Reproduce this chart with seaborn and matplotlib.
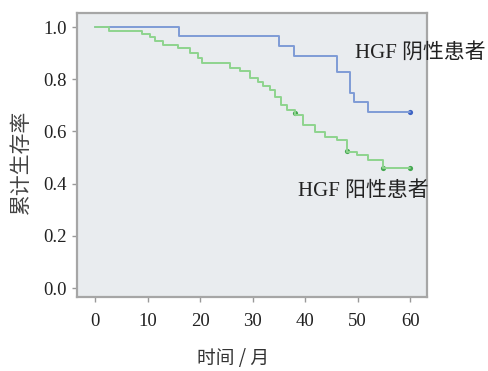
import numpy as np
import pandas as pd
import matplotlib
matplotlib.use("Agg")
import matplotlib.pyplot as plt
import seaborn as sns

# ── Data ─────────────────────────────────────────────────────────────────────
neg_time = [0, 16, 35, 37.8, 46, 48.6, 49.4, 52, 60]
neg_surv = [1.0, 0.964, 0.928, 0.891, 0.826, 0.747, 0.713, 0.676, 0.676]
neg_cens_t = [60]
neg_cens_s = [0.676]

pos_time = [0, 2.7, 8.9, 10.5, 11.5, 13, 15.8, 18, 19.6, 20.4, 25.7, 27.6,
            29.5, 31, 32, 33.3, 34.3, 35.4, 36.5, 38, 39.6, 41.9, 43.8, 46,
            48, 49.9, 52, 54.9, 60]
pos_surv = [1.0, 0.985, 0.973, 0.962, 0.946, 0.931, 0.920, 0.900, 0.881, 0.862,
            0.843, 0.831, 0.805, 0.789, 0.774, 0.759, 0.732, 0.701, 0.682, 0.663,
            0.625, 0.598, 0.579, 0.567, 0.521, 0.510, 0.490, 0.460, 0.460]
pos_cens_t = [38, 48, 54.9, 60]
pos_cens_s = [0.672, 0.527, 0.460, 0.460]

xticks = [0, 10, 20, 30, 40, 50, 60]
yticks = [0.0, 0.2, 0.4, 0.6, 0.8, 1.0]

neg_df = pd.DataFrame({"t": neg_time, "s": neg_surv})
pos_df = pd.DataFrame({"t": pos_time, "s": pos_surv})

BLUE, BLUE_D = "#7f9bd6", "#3d63c4"
GREEN, GREEN_D = "#8ed48e", "#45a852"
SERIF = ["Liberation Serif", "Noto Sans CJK SC"]
CJK = ["Noto Sans CJK SC", "DejaVu Sans"]

sns.set_style("white")
fig = plt.figure(figsize=(4.88, 3.71), dpi=100)
ax = fig.add_axes([0.158, 0.1995, 0.717, 0.7655])
ax.set_facecolor("#e9ecef")

sns.lineplot(data=neg_df, x="t", y="s", drawstyle="steps-post", estimator=None,
             color=BLUE, linewidth=1.4, ax=ax)
sns.lineplot(data=pos_df, x="t", y="s", drawstyle="steps-post", estimator=None,
             color=GREEN, linewidth=1.4, ax=ax)
sns.scatterplot(x=neg_cens_t, y=neg_cens_s, color=BLUE_D, s=14, linewidth=0, ax=ax)
sns.scatterplot(x=pos_cens_t, y=pos_cens_s, color=GREEN_D, s=14, linewidth=0, ax=ax)

ax.set_xlim(-3.4, 63.2)
ax.set_ylim(-0.034, 1.054)
ax.set_xticks(xticks)
ax.set_yticks(yticks)
ax.set_xticklabels([str(v) for v in xticks], family=SERIF, fontsize=13.5)
ax.set_yticklabels([f"{v:.1f}" for v in yticks], family=SERIF, fontsize=13.5)
ax.tick_params(axis="both", direction="out", length=3.5, width=1, color="#999999",
               pad=4, labelcolor="#222222", bottom=True, left=True)
ax.tick_params(axis="x", pad=8)

for sp in ax.spines.values():
    sp.set_color("#a6a6a6")
    sp.set_linewidth(1.6)

ax.set_xlabel("时间 / 月", family=CJK, fontsize=13.5, color="#333333")
ax.xaxis.set_label_coords(0.446, -0.18)
ax.set_ylabel("累计生存率", family=CJK, fontsize=15, color="#444444")
ax.yaxis.set_label_coords(-0.128, 0.475)

ax.text(0.794, 0.855, "HGF 阴性患者", transform=ax.transAxes, family=SERIF,
        fontsize=15, color="#222222", va="center", ha="left", clip_on=False)
ax.text(0.63, 0.375, "HGF 阳性患者", transform=ax.transAxes, family=SERIF,
        fontsize=15, color="#222222", va="center", ha="left", clip_on=False)

plt.savefig("out.png", dpi=100)
plt.close()
